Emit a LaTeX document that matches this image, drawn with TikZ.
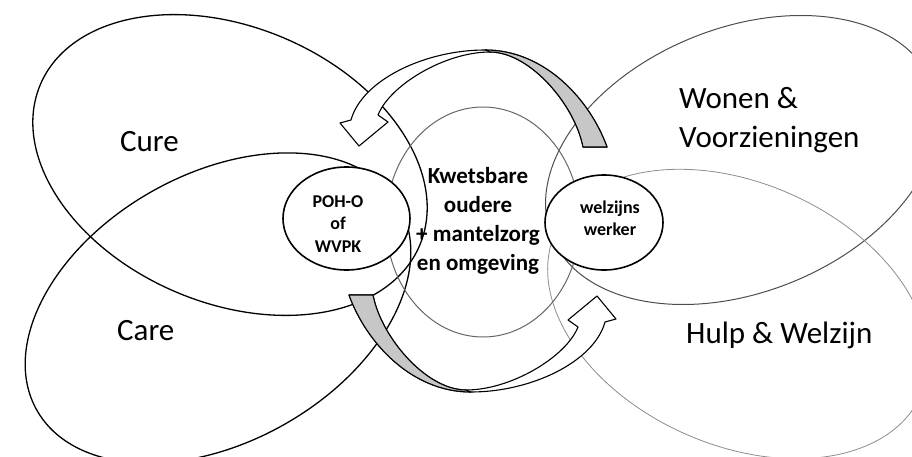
\documentclass[tikz,border=0pt]{standalone}
\usepackage{fontspec}
\setmainfont{Carlito}
\usetikzlibrary{shapes.geometric}

\definecolor{arrowgray}{gray}{0.78}

\tikzset{
  bigoval/.style={draw=black, line width=1.3pt},
  greyoval/.style={draw=black!70, line width=1pt},
  paleoval/.style={draw=black!45, line width=0.8pt},
  smalloval/.style={ellipse, draw=black, line width=1.6pt, fill=white, inner sep=0pt},
  arrowline/.style={draw=black, line width=1.1pt, line join=round},
  biglabel/.style={font=\fontsize{31}{39}\selectfont, inner sep=0pt},
  midlabel/.style={font=\fontsize{23}{29}\selectfont\bfseries, align=center, inner sep=0pt},
  smalllabel/.style={font=\fontsize{18}{22.5}\selectfont\bfseries, align=center, inner sep=0pt}
}

% curved block arrow, drawn once and turned round for the second one
\newcommand{\turnarrow}{%
  \filldraw[arrowline, fill=white]
    (583,147) -- (607,147)
    .. controls (590,100) and (545,50) .. (485,50)
    .. controls (425,50) and (362,80) .. (351,120)
    -- (340,123) -- (359,146) -- (388,122) -- (378,115)
    .. controls (390,85) and (445,52) .. (490,52)
    .. controls (530,52) and (575,105) .. (583,147) -- cycle;
  \filldraw[arrowline, fill=arrowgray]
    (583,147) -- (607,147)
    .. controls (590,100) and (545,50) .. (485,50)
    -- (490,52)
    .. controls (530,52) and (575,105) .. (583,147) -- cycle;
}

\begin{document}
\begin{tikzpicture}[x=1pt, y=-1pt]
  \useasboundingbox (0,0) rectangle (912,457);
  \clip (0,0) rectangle (912,457);

  % the four domains
  \draw[bigoval, rotate around={-23:(230,165)}] (230,165) ellipse [x radius=206pt, y radius=138pt];
  \draw[bigoval, rotate around={29.4:(218,308)}] (218,308) ellipse [x radius=208pt, y radius=134pt];
  \draw[greyoval, rotate around={22:(742,160)}] (742,160) ellipse [x radius=205pt, y radius=132pt];
  \draw[paleoval, rotate around={-24:(738,314)}] (738,314) ellipse [x radius=200pt, y radius=131pt];

  % the client in the middle
  \draw[greyoval, draw=black!60] (483,222) ellipse [x radius=97pt, y radius=115pt];
  \node[midlabel] (client) at (478,221) {Kwetsbare\\oudere\\+ mantelzorg\\en omgeving};

  % arrows
  \turnarrow
  \begin{scope}[rotate around={180:(478,221)}]
    \turnarrow
  \end{scope}

  % linking persons
  \node[smalloval, minimum width=127pt, minimum height=103pt] (poh) at (346.5,218.5) {};
  \node[smalllabel] (pohtext) at (338,224) {POH-O\\of\\WVPK};
  \node[smalloval, minimum width=118pt, minimum height=95pt] (welzijn) at (604,222.5) {};
  \node[smalllabel, font=\fontsize{18}{22}\selectfont\bfseries] (welzijntext) at (610,218) {welzijns\\werker};

  % domain labels
  \node[biglabel, anchor=base west] (cure) at (120,152) {Cure};
  \node[biglabel, anchor=base west] (care) at (117,340) {Care};
  \node[biglabel, anchor=west, align=left] (wonen) at (679,120) {Wonen \&\\Voorzieningen};
  \node[biglabel, anchor=base west] (hulp) at (686,343) {Hulp \& Welzijn};
\end{tikzpicture}
\end{document}
